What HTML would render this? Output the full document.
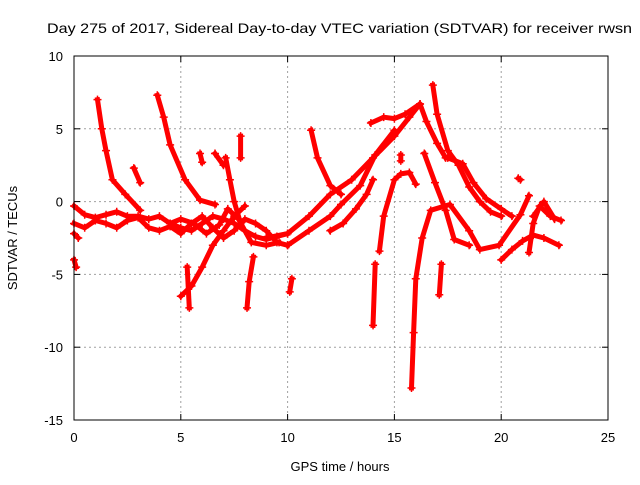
<!DOCTYPE html>
<html><head><meta charset="utf-8"><style>
body{margin:0;background:#fff}
svg text{font-family:"Liberation Sans",sans-serif;font-size:13px;fill:#000}
</style></head><body>
<svg id="chart" width="640" height="480" viewBox="0 0 640 480" xmlns="http://www.w3.org/2000/svg">
<text x="47" y="33" textLength="585" lengthAdjust="spacingAndGlyphs" style="font-size:14px">Day 275 of 2017, Sidereal Day-to-day VTEC variation (SDTVAR) for receiver rwsn</text>
<g id="grid"></g>
<g id="series"></g>
<rect x="74" y="56" width="534" height="364" fill="none" stroke="#000" stroke-width="1"/>
<g id="ticks"></g>
<text x="340" y="471" text-anchor="middle">GPS time / hours</text>
<text transform="translate(17,238) rotate(-90)" text-anchor="middle">SDTVAR / TECUs</text>
</svg>
<script>
const xTicks=[0,5,10,15,20,25];
const yTicks=[10,5,0,-5,-10,-15];
const tracks=[
[[1.1,7],[1.3,5],[1.5,3.5],[1.8,1.5],[2.4,0.5],[3.1,-0.6]],
[[3.9,7.3],[4.2,5.8],[4.5,3.9],[5.2,1.5],[5.9,0.1],[6.6,-0.2]],
[[2.8,2.3],[3.1,1.3]],
[[0,-0.3],[0.5,-0.9],[1,-1.1],[1.5,-0.9],[2,-0.7],[2.5,-1],[3,-1],[3.5,-1.2],[4,-1],[4.5,-1.5],[5,-1.8],[5.5,-2],[6,-1.5],[6.5,-1],[7,-1.2],[7.5,-1.5],[8,-2],[8.5,-2.4],[9,-2.6],[9.5,-2.4],[10,-2.2]],
[[0,-1.5],[0.5,-1.8],[1,-1.3],[1.5,-1.5],[2,-1.8],[2.5,-1.3],[3,-1.1],[3.5,-1.8],[4,-2],[4.5,-1.7],[5,-2.2],[5.5,-1.5],[6,-1],[6.5,-1.8],[7,-2.5],[7.5,-2],[8,-1.2],[8.5,-1.5],[9,-2],[9.5,-2.8],[10,-3]],
[[4.5,-1.5],[5,-1.2],[5.6,-1.5],[6.2,-2.2],[6.8,-1.6],[7.2,-0.5],[7.7,-1.2],[8.3,-2.8],[9,-3],[9.6,-2.8]],
[[5,-6.5],[5.5,-5.8],[6,-4.5],[6.5,-3],[7,-2],[7.5,-1],[8,-0.3]],
[[5.3,-4.5],[5.4,-7.3]],
[[8.4,-3.8],[8.2,-5.5],[8.1,-7.3]],
[[10.2,-5.3],[10.1,-6.2]],
[[7.8,4.5],[7.8,3]],
[[5.9,3.3],[6,2.7]],
[[6.6,3.3],[7,2.5]],
[[7.1,3],[7.3,1.5],[7.5,0],[7.8,-1.5]],
[[11.1,4.9],[11.4,3],[12,1.1],[12.5,0.5]],
[[9,-2.5],[10,-2.2],[11,-1],[12,0.5],[13,1.5],[14,3],[15,4.5],[15.7,5.8],[16.2,6.7]],
[[10,-3],[11,-2],[12,-1],[12.5,-0.2],[13.4,1.1],[14.1,3.2],[15,4.9]],
[[12,-2],[12.6,-1.5],[13.2,-0.5],[13.7,0.5],[14,1.5]],
[[13.9,5.4],[14.5,5.8],[15,5.7],[15.5,6],[16.2,6.7],[16.5,5.5],[17,4],[17.4,3]],
[[16.8,8],[17,6],[17.5,3.5],[18,2.5],[18.5,1],[19,0],[19.5,-0.7],[20,-1]],
[[14.3,-3.4],[14.5,-1],[15,1.5],[15.3,1.9],[15.7,2],[16,1.2]],
[[15.8,-12.8],[15.9,-9],[16,-5.3],[16.3,-2.5],[16.7,-0.6],[17.6,-0.2],[18.5,-2],[19,-3.3],[19.9,-3],[20.9,-0.9],[21.3,0.4]],
[[16.4,3.3],[16.9,1.3],[17.4,-0.6],[17.8,-2.6],[18.5,-3]],
[[17.5,3],[18.2,2.6],[18.7,1.3],[19.3,0.2],[20,-0.5],[20.5,-1]],
[[20.8,1.6],[20.9,1.5]],
[[20,-4],[20.5,-3.3],[21,-2.7],[21.5,-2.3],[22,-2.5],[22.7,-3]],
[[21.3,-3.5],[21.5,-1.5],[21.8,-0.3],[22.3,-1],[22.8,-1.3]],
[[21.5,-1],[22,0],[22.5,-1.2]],
[[14.1,-4.3],[14,-8.5]],
[[17.2,-4.3],[17.1,-6.4]],
[[15.3,3.2],[15.3,2.8]],
[[0,-2.2],[0.2,-2.5]],
[[0,-4],[0.1,-4.5]]
];
const NS="http://www.w3.org/2000/svg";
const X0=74,X1=608,Y0=420,Y1=56;
function sx(h){return X0+(h-0)/25*(X1-X0);}
function sy(v){return Y0-(v+15)/25*(Y0-Y1);}
const grid=document.getElementById('grid'),ticks=document.getElementById('ticks'),ser=document.getElementById('series');
function mk(tag,attrs,parent){const e=document.createElementNS(NS,tag);for(const k in attrs)e.setAttribute(k,attrs[k]);parent.appendChild(e);return e;}
xTicks.forEach(t=>{const x=sx(t);
 if(t>0&&t<25){const l=mk('line',{x1:x,x2:x,y1:Y1,y2:Y0,stroke:'#a0a0a0','stroke-dasharray':'2,3'},grid);
 
 }
 mk('line',{x1:x,x2:x,y1:Y0,y2:Y0-6,stroke:'#000'},ticks);
 mk('line',{x1:x,x2:x,y1:Y1,y2:Y1+6,stroke:'#000'},ticks);
 const tx=mk('text',{x:x,y:442,'text-anchor':'middle'},ticks);tx.textContent=t;
 
 
});
yTicks.forEach(t=>{const y=sy(t);
 if(t<10&&t>-15){const l=mk('line',{x1:X0,x2:X1,y1:y,y2:y,stroke:'#a0a0a0','stroke-dasharray':'2,3'},grid);
 
 }
 mk('line',{x1:X0,x2:X0+6,y1:y,y2:y,stroke:'#000'},ticks);
 mk('line',{x1:X1,x2:X1-6,y1:y,y2:y,stroke:'#000'},ticks);
 const tx=mk('text',{x:63,y:y+5,'text-anchor':'end'},ticks);tx.textContent=t;
 
 
});
tracks.forEach((tr,i)=>{
 const pts=tr.map(p=>sx(p[0]).toFixed(1)+','+sy(p[1]).toFixed(1)).join(' ');
 const pl=mk('polyline',{points:pts,fill:'none',stroke:'#ff0000','stroke-width':5,'stroke-linejoin':'round','stroke-linecap':'square'},ser);
 
 
 tr.forEach(p=>{const x=sx(p[0]),y=sy(p[1]);
  const m=mk('path',{d:`M${x-4},${y}H${x+4}M${x},${y-4}V${y+4}`,stroke:'#ff0000','stroke-width':1.5},ser);
  
  
 });
});
</script>
</body></html>
